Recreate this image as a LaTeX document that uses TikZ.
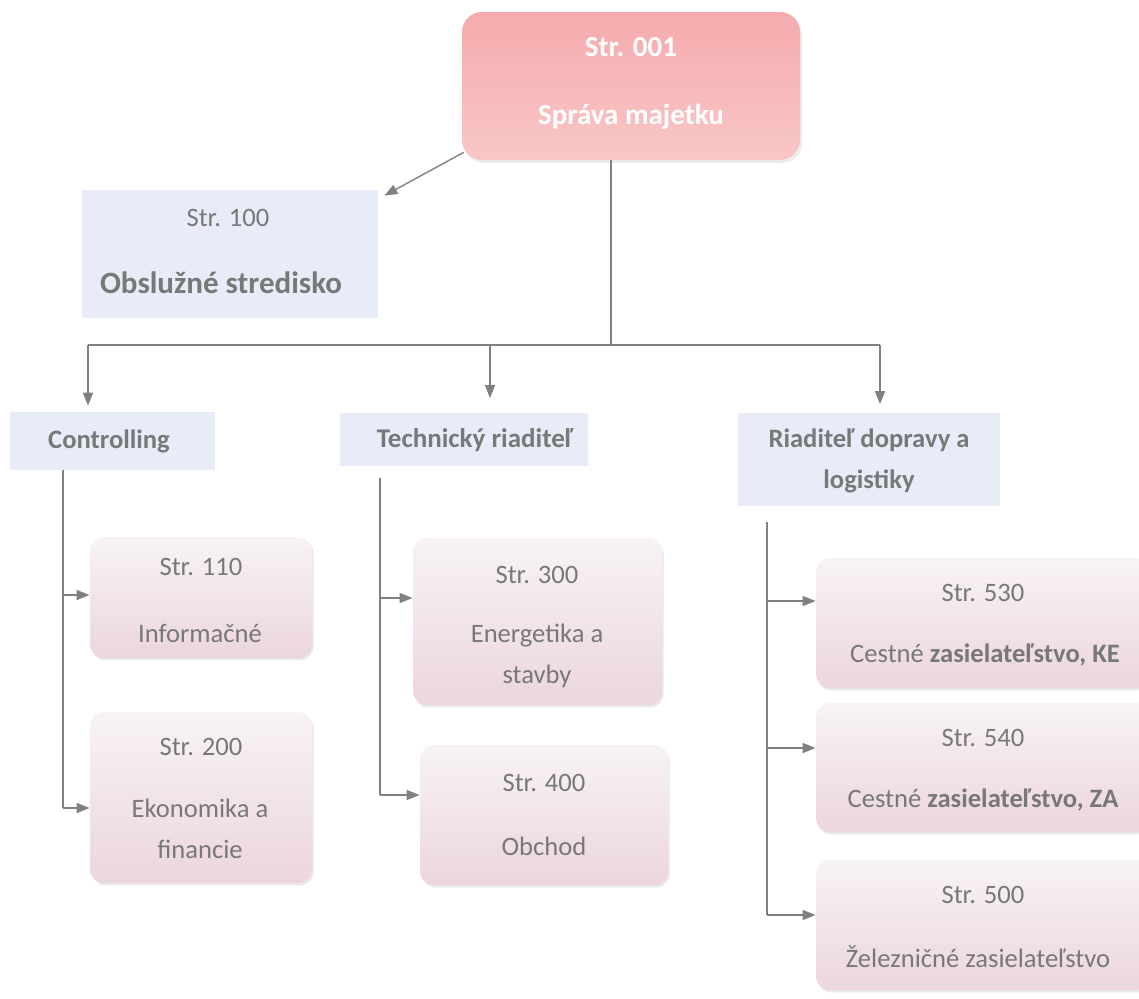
\documentclass[tikz,border=0pt]{standalone}
\usepackage{fontspec}
\setmainfont{Carlito}
\usetikzlibrary{positioning,shapes,shadows,arrows.meta}
\definecolor{txtgrey}{HTML}{787878}
\definecolor{linegrey}{HTML}{808080}
\definecolor{headpink}{HTML}{F5ABAD}
\definecolor{headlight}{HTML}{F9C6C6}
\definecolor{bluebox}{HTML}{E8ECF8}
\definecolor{subpink}{HTML}{EBD6DC}
\definecolor{sublight}{HTML}{F8F3F5}

\begin{document}
\begin{tikzpicture}[x=0.5pt,y=-0.5pt]
\tikzstyle{every node}+=[inner sep=0pt,text=txtgrey,font=\fontsize{13.3}{20.5}\selectfont]
\tikzstyle{headbox}=[rounded corners=10pt,top color=headpink,bottom color=headlight,drop shadow={opacity=0.15,shadow xshift=1pt,shadow yshift=-1.5pt}]
\tikzstyle{bluebox}=[fill=bluebox]
\tikzstyle{subbox}=[rounded corners=7pt,top color=sublight,bottom color=subpink,drop shadow={opacity=0.18,shadow xshift=0.8pt,shadow yshift=-1.2pt}]
\tikzstyle{headtext}=[text=white,font=\fontsize{14.5}{14}\selectfont\bfseries]
\tikzstyle{boldtext}=[font=\fontsize{13.3}{20.5}\selectfont\bfseries]
\tikzstyle{conn}=[draw=linegrey,line width=0.7pt]
\tikzstyle{arr}=[conn,-{Triangle[length=6.5pt,width=5pt]}]
\useasboundingbox (0,0) rectangle (1139,998);
\clip (0,0) rectangle (1139,998);
% top box
\node [headbox,minimum width=169pt,minimum height=74pt] (hq) at (631,86) {};
\node [headtext] (hqa) at (631,47) {Str. 001};
\node [headtext] (hqb) at (631,117) {Správa majetku};
% service centre
\node [bluebox,minimum width=148pt,minimum height=64pt] (obs) at (230,254) {};
\node (obsa) at (228,218) {Str. 100};
\node [font=\fontsize{15.5}{14}\selectfont\bfseries] (obsb) at (221,283) {Obslužné stredisko};
% second level
\node [bluebox,minimum width=102.5pt,minimum height=29pt] (ctrl) at (112,441) {};
\node [boldtext] (ctrla) at (109,441) {Controlling};
\node [bluebox,minimum width=124pt,minimum height=26.5pt] (tech) at (464,439) {};
\node [font=\fontsize{13.5}{14}\selectfont\bfseries] (techa) at (475,440) {Technický riaditeľ};
\node [bluebox,minimum width=131pt,minimum height=46.5pt] (dopr) at (869,459) {};
\node [align=center,boldtext] (dopra) at (869,461) {Riaditeľ dopravy a\\logistiky};
% third level
\node [subbox,minimum width=111pt,minimum height=60.5pt] (s110) at (201,597.5) {};
\node (s110a) at (201,567) {Str. 110};
\node (s110b) at (200,633) {Informačné};
\node [subbox,minimum width=111pt,minimum height=85.5pt] (s200) at (201,797.5) {};
\node (s200a) at (201,747) {Str. 200};
\node [align=center] (s200b) at (200,829) {Ekonomika a\\financie};
\node [subbox,minimum width=124.5pt,minimum height=83.5pt] (s300) at (537.5,621.5) {};
\node (s300a) at (537,575) {Str. 300};
\node [align=center] (s300b) at (537,656) {Energetika a\\stavby};
\node [subbox,minimum width=124pt,minimum height=70pt] (s400) at (544,815) {};
\node (s400a) at (544,783) {Str. 400};
\node (s400b) at (544,846) {Obchod};
\node [subbox,minimum width=167pt,minimum height=65pt] (s530) at (983,623) {};
\node (s530a) at (983,593) {Str. 530};
\node (s530b) at (985,655) {Cestné \textbf{zasielateľstvo, KE}};
\node [subbox,minimum width=167pt,minimum height=64.5pt] (s540) at (983,767.5) {};
\node (s540a) at (983,738) {Str. 540};
\node (s540b) at (983,800) {Cestné \textbf{zasielateľstvo, ZA}};
\node [subbox,minimum width=167pt,minimum height=65pt] (s500) at (983,925) {};
\node (s500a) at (983,895) {Str. 500};
\node (s500b) at (978,957) {Železničné zasielateľstvo};
% connectors from the top
\draw [arr] ([shift={(2,-8)}]hq.south west) -- ([shift={(6,6)}]obs.north east);
\coordinate (split) at (611,345);
\coordinate (jl) at (88,345);
\coordinate (jm) at (490,345);
\coordinate (jr) at (880,345);
\draw [conn] (hq.south -| split) -- (split);
\draw [conn] (jl) -- (jr);
\draw [arr] (jl) -- ([yshift=3pt]ctrl.north -| jl);
\draw [arr] (jm) -- ([yshift=7pt]tech.north -| jm);
\draw [arr] (jr) -- ([yshift=4pt]dopr.north -| jr);
% Controlling
\coordinate (cb1) at (63,595);
\coordinate (cb2) at (63,808);
\draw [conn] (ctrl.south -| cb1) -- (cb2);
\draw [arr] (cb1) -- (s110.west |- cb1);
\draw [arr] (cb2) -- (s200.west |- cb2);
% Technicky riaditel
\coordinate (tb1) at (380,598);
\coordinate (tb2) at (380,795);
\draw [conn] ([yshift=-6pt]tech.south -| tb1) -- (tb2);
\draw [arr] (tb1) -- (s300.west |- tb1);
\draw [arr] (tb2) -- (s400.west |- tb2);
% Riaditel dopravy
\coordinate (rtop) at (767,522);
\coordinate (rb1) at (767,601);
\coordinate (rb2) at (767,748);
\coordinate (rb3) at (767,915);
\draw [conn] (rtop) -- (rb3);
\draw [arr] (rb1) -- (s530.west |- rb1);
\draw [arr] (rb2) -- (s540.west |- rb2);
\draw [arr] (rb3) -- (s500.west |- rb3);
\end{tikzpicture}
\end{document}
